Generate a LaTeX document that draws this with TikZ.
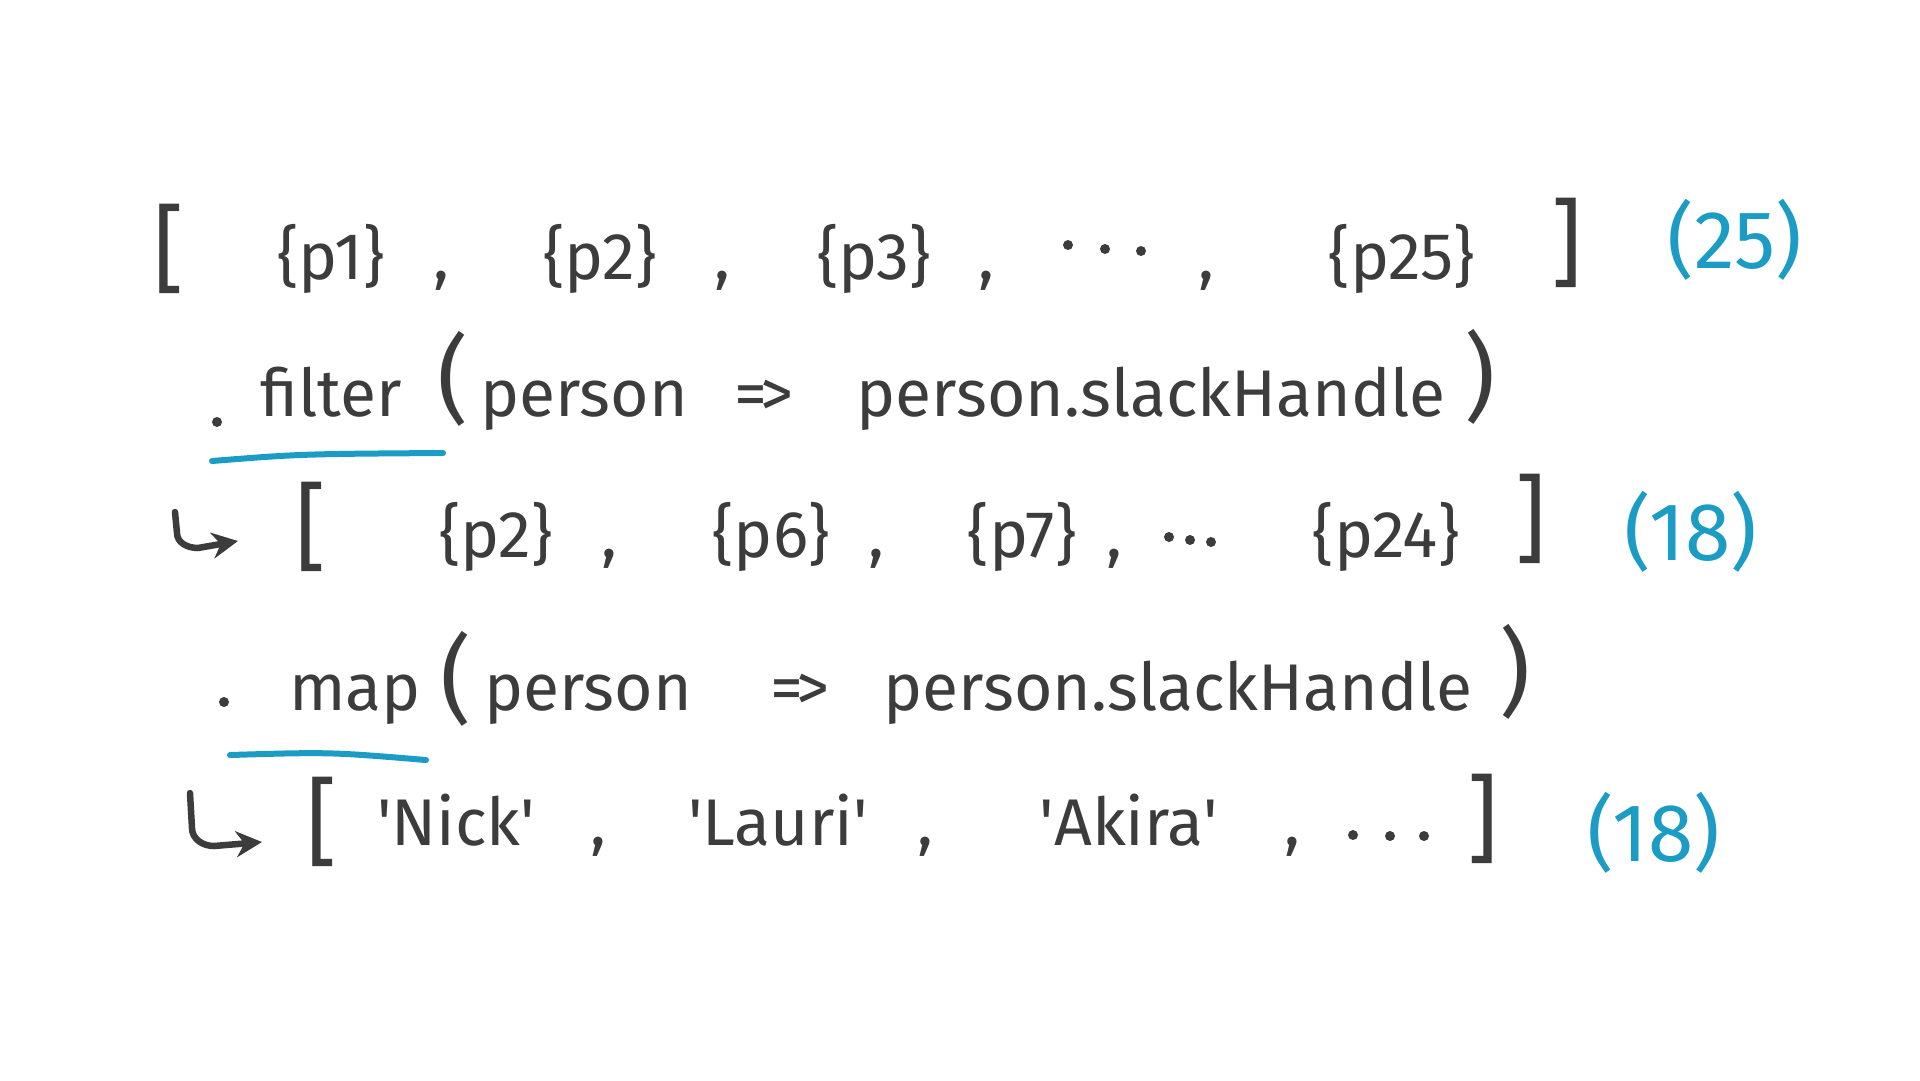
\documentclass[tikz,border=0pt]{standalone}
\usepackage{fontspec}
\setmainfont{Fira Sans}
\usetikzlibrary{arrows.meta}
\definecolor{ink}{HTML}{3C3C3C}
\definecolor{accent}{HTML}{1A9CC4}
\newcommand\sq{\textquotesingle}
\begin{document}
\begin{tikzpicture}[x=1pt,y=-1pt,
  tok/.style={text=ink,font=\fontsize{66}{70}\selectfont,inner sep=0pt,anchor=base},
  brk/.style={text=ink,font=\fontsize{96}{100}\selectfont,inner sep=0pt,anchor=base},
  num/.style={text=accent,font=\fontsize{82}{86}\selectfont,inner sep=0pt,anchor=base},
  dotc/.style={fill=ink,draw=none},
  uline/.style={draw=accent,line width=6pt,line cap=round},
  harrow/.style={draw=ink,line width=6.5pt,line cap=round,line join=round,-{Stealth[length=26pt,width=26pt]}}]
\useasboundingbox (0,0) rectangle (1920,1080);
\fill[white] (0,0) rectangle (1920,1080);
% line 1
\node[brk] (a0) at (169,282) {[};
\node[tok] (a1) at (331,279) {\{p1\}};
\node[tok] (a2) at (441,279) {,};
\node[tok] (a3) at (600,279) {\{p2\}};
\node[tok] (a4) at (722,279) {,};
\node[tok] (a5) at (874,279) {\{p3\}};
\node[tok] (a6) at (986,279) {,};
\fill[dotc] (1068,245) circle (5) (1105,249) circle (5) (1141,251) circle (5);
\node[tok] (a7) at (1206,279) {,};
\node[tok] (a8) at (1402,279) {\{p25\}};
\node[brk] (a9) at (1567,276) {]};
\node[num] (n1) at (1735,268) {(25)};
% line 2
\fill[dotc] (217,422) circle (5);
\node[tok] (b1) at (331,416) {filter};
\node[brk] (b2) at (453,412) {(};
\node[tok] (b3) at (584,416) {person};
\node[tok] (b4) at (764,416) {=\kern-0.12em>};
\node[tok] (b5) at (1151,416) {person.slackHandle};
\node[brk] (b6) at (1480,410) {)};
\coordinate (u1s) at (212,461);
\coordinate (u1e) at (443,453);
\draw[uline] (u1s) .. controls (300,454) .. (u1e);
% line 3
\coordinate (r1a) at (175,512);
\coordinate (r1b) at (177,533);
\coordinate (r1c) at (198,548);
\coordinate (r1d) at (238,541);
\draw[harrow] (r1a) -- (r1b) to[out=-90,in=180] (r1c) -- (r1d);
\node[brk] (c0) at (311,560) {[};
\node[tok] (c1) at (496,557) {\{p2\}};
\node[tok] (c2) at (609,557) {,};
\node[tok] (c3) at (771,557) {\{p6\}};
\node[tok] (c4) at (876,557) {,};
\node[tok] (c5) at (1022,557) {\{p7\}};
\node[tok] (c6) at (1114,557) {,};
\fill[dotc] (1169,537) circle (5) (1190,540) circle (5) (1211,542) circle (5);
\node[tok] (c7) at (1386,557) {\{p24\}};
\node[brk] (c8) at (1531,552) {]};
\node[num] (n2) at (1691,560) {(18)};
% line 4
\fill[dotc] (224,702) circle (5);
\node[tok] (d1) at (355,710) {map};
\node[brk] (d2) at (456,712) {(};
\node[tok] (d3) at (588,710) {person};
\node[tok] (d4) at (800,710) {=\kern-0.12em>};
\node[tok] (d5) at (1178,710) {person.slackHandle};
\node[brk] (d6) at (1515,705) {)};
\coordinate (u2s) at (230,755);
\coordinate (u2e) at (426,760);
\draw[uline] (u2s) .. controls (330,752) .. (u2e);
% line 5
\coordinate (r2a) at (190,793);
\coordinate (r2b) at (192,828);
\coordinate (r2c) at (214,846);
\coordinate (r2d) at (262,842);
\draw[harrow] (r2a) -- (r2b) to[out=-90,in=180] (r2c) -- (r2d);
\node[brk] (e0) at (322,855) {[};
\node[tok] (e1) at (456,845) {\sq Nick\sq};
\node[tok] (e2) at (598,845) {,};
\node[tok] (e3) at (778,845) {\sq Lauri\sq};
\node[tok] (e4) at (925,845) {,};
\node[tok] (e5) at (1129,845) {\sq Akira\sq};
\node[tok] (e6) at (1292,845) {,};
\fill[dotc] (1353,835) circle (5) (1390,836) circle (5) (1424,836) circle (5);
\node[brk] (e7) at (1483,852) {]};
\node[num] (n3) at (1654,861) {(18)};
\end{tikzpicture}
\end{document}
